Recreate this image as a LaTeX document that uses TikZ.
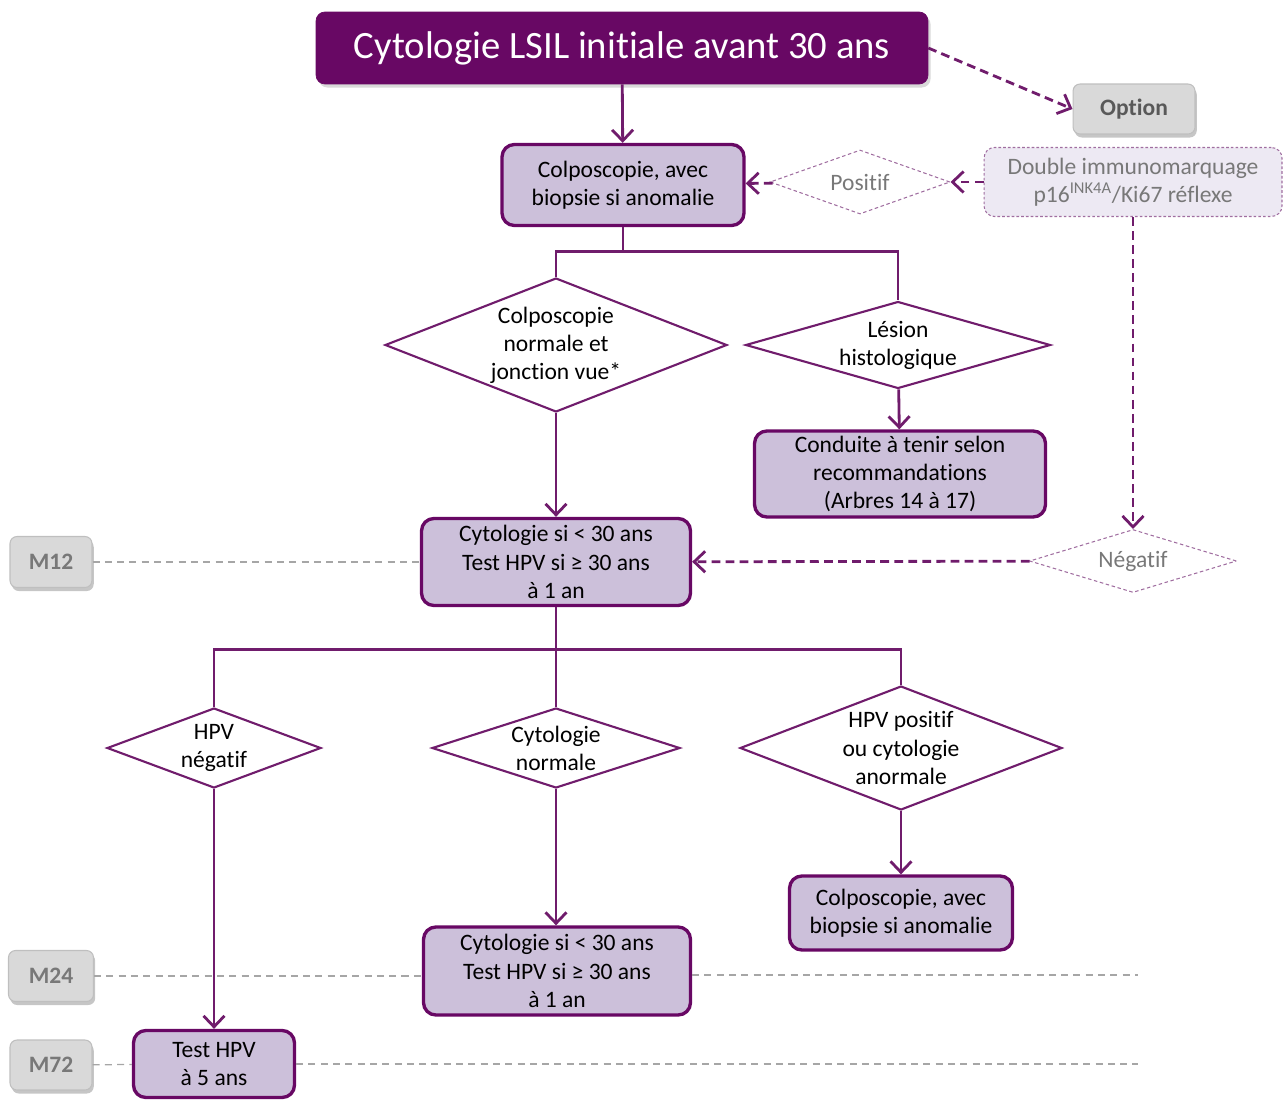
\documentclass[tikz,border=0pt]{standalone}
\usepackage{fontspec}
\setmainfont{Carlito}[Ligatures={NoCommon}]
\usetikzlibrary{shapes.geometric,arrows.meta,shadows}

\definecolor{purpdark}{RGB}{104,8,100}
\definecolor{purpline}{RGB}{112,28,108}
\definecolor{purplight}{RGB}{160,110,160}
\definecolor{lav}{RGB}{204,192,218}
\definecolor{lavlight}{RGB}{237,233,243}
\definecolor{greyfill}{RGB}{217,217,217}
\definecolor{greytext}{RGB}{120,120,120}
\definecolor{greydark}{RGB}{89,89,89}

\tikzset{
	txt/.style={font=\fontsize{13.4}{16}\selectfont, align=center},
	headbox/.style={rectangle, rounded corners=5pt, fill=purpdark, draw=purpdark, text=white,
		font=\fontsize{22}{26}\selectfont, drop shadow={shadow xshift=1.5pt, shadow yshift=-2pt, opacity=0.3}},
	stepbox/.style={txt, rectangle, rounded corners=7pt, fill=lav, draw=purpdark, line width=1.9pt, inner sep=1pt},
	greybox/.style={rectangle, rounded corners=4pt, fill=greyfill, draw=black!25, line width=0.6pt,
		font=\fontsize{13.4}{16}\selectfont\bfseries, drop shadow={shadow xshift=1pt, shadow yshift=-2pt, opacity=0.45}},
	decision/.style={txt, diamond, draw=purpline, line width=1.2pt, fill=white, inner sep=0pt},
	optdecision/.style={txt, diamond, draw=purplight, line width=0.6pt, dash pattern=on 2pt off 1.5pt,
		text=greytext, inner sep=0pt},
	optbox/.style={txt, rectangle, rounded corners=6pt, fill=lavlight, draw=purplight, line width=0.6pt,
		dash pattern=on 1.5pt off 1.2pt, text=greytext},
	flow/.style={draw=purpline, line width=1.6pt, -{Straight Barb[length=2.2mm,width=4.2mm]}},
	branch/.style={draw=purpline, line width=1.6pt},
	dashflow/.style={flow, dash pattern=on 5pt off 3pt},
	timeline/.style={draw=black!35, line width=0.7pt, dash pattern=on 4pt off 3pt}
}

\begin{document}
\begin{tikzpicture}[x=0.02cm, y=-0.02cm]
	\useasboundingbox (0,0) rectangle (1287,1099);

	\node[headbox, minimum width=12.24cm, minimum height=1.44cm] (start) at (622,48) {Cytologie LSIL initiale avant 30 ans};
	\node[greybox, text=greydark, minimum width=2.44cm, minimum height=1cm] (option) at (1134,109) {Option};

	\node[stepbox, minimum width=4.84cm, minimum height=1.62cm] (colpo1) at (623,185) {Colposcopie, avec\\biopsie si anomalie};
	\node[optdecision, minimum width=3.6cm, minimum height=1.28cm, shape aspect=2.8] (positif) at (860,182) {Positif};
	\node[optbox, minimum width=5.96cm, minimum height=1.38cm] (immuno) at (1133,182) {Double immunomarquage\\p16\textsuperscript{INK4A}/Ki67 réflexe};

	\node[decision, minimum width=6.84cm, minimum height=2.68cm, shape aspect=2.55] (normale) at (556,345) {Colposcopie\\normale et\\jonction vue*};
	\node[decision, minimum width=6.1cm, minimum height=1.74cm, shape aspect=3.5] (lesion) at (898,345) {Lésion\\histologique};
	\node[stepbox, minimum width=5.82cm, minimum height=1.72cm] (conduite) at (900,474) {Conduite à tenir selon\\recommandations\\(Arbres 14 à 17)};

	\node[stepbox, minimum width=5.38cm, minimum height=1.74cm] (suivi1) at (556,562) {Cytologie si < 30 ans\\Test HPV si ≥ 30 ans\\à 1 an};
	\node[greybox, text=greytext, minimum width=1.64cm, minimum height=1.02cm] (m12) at (51,562) {M12};
	\node[optdecision, minimum width=4.14cm, minimum height=1.26cm, shape aspect=3.3] (negatif) at (1133,561) {Négatif};

	\node[decision, minimum width=4.28cm, minimum height=1.6cm, shape aspect=2.7] (hpvneg) at (214,748) {HPV\\négatif};
	\node[decision, minimum width=4.96cm, minimum height=1.6cm, shape aspect=3.1] (cytonorm) at (556,748) {Cytologie\\normale};
	\node[decision, minimum width=6.44cm, minimum height=2.48cm, shape aspect=2.7] (hpvpos) at (901,748) {HPV positif\\ou cytologie\\anormale};

	\node[stepbox, minimum width=4.46cm, minimum height=1.48cm] (colpo2) at (901,913) {Colposcopie, avec\\biopsie si anomalie};
	\node[stepbox, minimum width=5.34cm, minimum height=1.76cm] (suivi2) at (557,971) {Cytologie si < 30 ans\\Test HPV si ≥ 30 ans\\à 1 an};
	\node[greybox, text=greytext, minimum width=1.7cm, minimum height=1.02cm] (m24) at (51,976) {M24};
	\node[stepbox, minimum width=3.22cm, minimum height=1.34cm] (hpv5) at (214,1064) {Test HPV\\à 5 ans};
	\node[greybox, text=greytext, minimum width=1.64cm, minimum height=1cm] (m72) at (51,1065) {M72};

	\coordinate (end24) at (1138,975);
	\coordinate (end72) at (1138,1064);

	\draw[flow] (start) -- (colpo1);
	\draw[dashflow] (start.east) -- (option.west);
	\draw[dashflow] (immuno) -- (positif);
	\draw[dashflow] (positif) -- (colpo1);

	\draw[branch] (colpo1.south) -- ++(0,24) coordinate (split1);
	\draw[branch] (split1) -| (normale.north);
	\draw[branch] (split1) -| (lesion.north);
	\draw[flow] (normale) -- (suivi1);
	\draw[flow] (lesion) -- (conduite);

	\draw[dashflow] (immuno) -- (negatif);
	\draw[dashflow] (negatif) -- (suivi1);
	\draw[timeline] (m12) -- (suivi1);

	\draw[branch] (suivi1.south) -- ++(0,42) coordinate (split2);
	\draw[branch] (split2) -| (hpvneg.north);
	\draw[branch] (split2) -| (hpvpos.north);
	\draw[branch] (split2) -- (cytonorm.north);
	\draw[flow] (hpvneg) -- (hpv5);
	\draw[flow] (cytonorm) -- (cytonorm |- suivi2.north);
	\draw[flow] (hpvpos) -- (colpo2);

	\draw[timeline] (m24) -- (m24 -| suivi2.west);
	\draw[timeline] (suivi2.east |- end24) -- (end24);
	\draw[timeline] (m72) -- (hpv5);
	\draw[timeline] (hpv5) -- (end72);
\end{tikzpicture}
\end{document}
